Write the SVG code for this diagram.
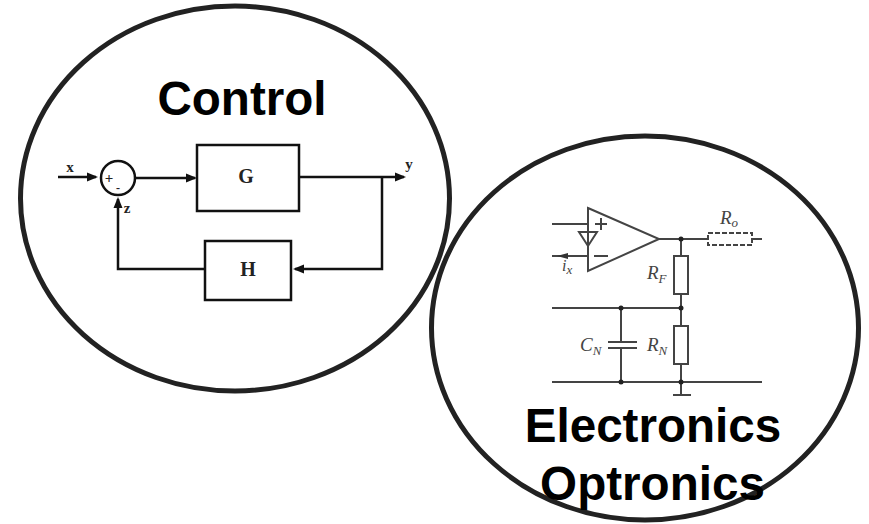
<svg xmlns="http://www.w3.org/2000/svg" width="869" height="524" viewBox="0 0 869 524">
<style>
.big{font-family:"Liberation Sans",Arial,sans-serif;font-weight:700;font-size:47.6px;fill:#000;text-anchor:middle}
.ring{fill:none;stroke:#222;stroke-width:5}
.b{font-family:"Liberation Serif","Times New Roman",serif;font-weight:700;fill:#222;text-anchor:middle}
.i{font-family:"Liberation Serif","Times New Roman",serif;font-style:italic;fill:#444}
.sub{font-size:13px}
.c1{fill:none;stroke:#111;stroke-width:2.5}
.el{fill:none;stroke:#444;stroke-width:2}
.dot{fill:#222}
</style>
<defs>
<marker id="ah" markerUnits="userSpaceOnUse" markerWidth="12" markerHeight="12" refX="9" refY="5" orient="auto"><path d="M0 0.5L11 5L0 9.5Z" fill="#111"/></marker>
</defs>
<g id="control-circle"><ellipse class="ring" cx="235" cy="198.500" rx="214.500" ry="192.500"/><text class="big" x="242" y="115">Control</text></g>
<g id="electronics-circle"><ellipse class="ring" cx="645" cy="328" rx="213.500" ry="192"/><text class="big" x="653" y="442">Electronics</text><text class="big" x="652.500" y="500">Optronics</text></g>
<g id="sum"><circle class="c1" cx="118" cy="178" r="17"/><text x="109" y="183" font-size="15" class="b" font-weight="400">+</text><text x="118" y="192" font-size="12" class="b">-</text></g>
<g id="G"><rect class="c1" x="197" y="145" width="102" height="66"/><text class="b" x="246" y="183" font-size="20">G</text></g>
<g id="H"><rect class="c1" x="205" y="241" width="86" height="59"/><text class="b" x="248" y="276" font-size="20">H</text></g>
<g id="connectors">
<path class="c1" marker-end="url(#ah)" d="M58 177H96"/>
<path class="c1" marker-end="url(#ah)" d="M135 178H195"/>
<path class="c1" marker-end="url(#ah)" d="M299 177H404"/>
<path class="c1" marker-end="url(#ah)" d="M382 177V269H295"/>
<path class="c1" marker-end="url(#ah)" d="M205 269H118V199"/>
</g>
<g id="control-labels">
<text class="b" x="70" y="172" font-size="15">x</text>
<text class="b" x="409" y="169" font-size="15">y</text>
<text class="b" x="127" y="213" font-size="15">z</text>
</g>
<g id="amplifier">
<path class="el" d="M588 208L659 239L588 271Z"/>
<path class="el" d="M552 224H588M552 256H588"/>
<path class="el" d="M579 232H597L588 246ZM588 224V232M588 246V256"/>
<path class="el" d="M595 224H607M601 218V230M594 256H608"/>
<path fill="#333" d="M557 256L568 253V259Z"/>
<text class="i" x="562" y="271" font-size="16">i<tspan class="sub" dy="3">x</tspan></text>
</g>
<g id="network">
<path class="el" d="M659 239H708M752 239H762M681 239V256M681 294V326M552 308H681M681 364V395M621 308V342M621 348V382M552 382H762"/>
<path class="el" d="M608 342H637M608 348H637M673 395H691"/>
<rect class="el" x="674" y="256" width="14" height="38"/>
<rect class="el" x="674" y="326" width="14" height="38"/>
<rect class="el" stroke-dasharray="5 2" x="708" y="233" width="44" height="12"/>
<circle class="dot" cx="681" cy="239" r="2.500"/><circle class="dot" cx="681" cy="308" r="2.500"/><circle class="dot" cx="621" cy="308" r="2.500"/><circle class="dot" cx="621" cy="382" r="2.500"/><circle class="dot" cx="681" cy="382" r="2.500"/>
<text class="i" x="720" y="224" font-size="19">R<tspan class="sub" dy="3">o</tspan></text>
<text class="i" x="647" y="279" font-size="19">R<tspan class="sub" dy="4">F</tspan></text>
<text class="i" x="580" y="351" font-size="19">C<tspan class="sub" dy="4">N</tspan></text>
<text class="i" x="647" y="351" font-size="19">R<tspan class="sub" dy="4">N</tspan></text>
</g>
</svg>
